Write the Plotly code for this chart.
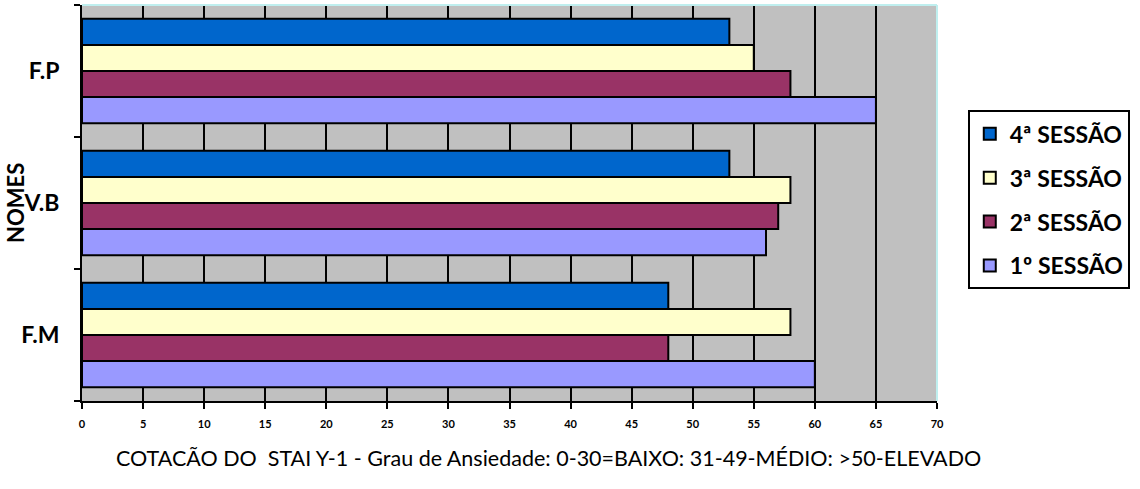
import plotly.graph_objects as go

categories = ["F.M", "V.B", "F.P"]
series_names = ["1º SESSÃO", "2ª SESSÃO", "3ª SESSÃO", "4ª SESSÃO"]
s1 = [60, 56, 65]
s2 = [48, 57, 58]
s3 = [58, 58, 55]
s4 = [48, 53, 53]
colors = ["#9999FF", "#993366", "#FFFFCC", "#0066CC"]
x_ticks = list(range(0, 75, 5))
x_title = "COTACÃO DO  STAI Y-1 - Grau de Ansiedade: 0-30=BAIXO: 31-49-MÉDIO: >50-ELEVADO"
y_title = "NOMES"

FONT = "Lato"

fig = go.Figure()
for i, (name, vals, col) in enumerate(zip(series_names, [s1, s2, s3, s4], colors)):
    fig.add_trace(go.Bar(
        y=categories, x=vals, name=name, orientation="h",
        legendgroup=name, legendrank=1000 - i,
        marker=dict(color=col, line=dict(color="black", width=2)),
    ))

fig.update_layout(
    width=1140, height=489,
    margin=dict(l=82, r=203, t=5, b=88),
    paper_bgcolor="white",
    plot_bgcolor="#C0C0C0",
    barmode="group", bargap=0.21, bargroupgap=0,
    font=dict(family=FONT, color="black"),
    legend=dict(
        traceorder="grouped",
        x=1.036, y=0.508, xanchor="left", yanchor="middle",
        bordercolor="black", borderwidth=2,
        font=dict(size=23, family=FONT, weight="bold"),
        itemwidth=30, tracegroupgap=11,
    ),
    showlegend=True,
)

fig.update_xaxes(
    range=[0, 70], tickvals=x_ticks, ticktext=[str(v) for v in x_ticks],
    showgrid=True, gridcolor="black", gridwidth=2,
    showline=True, linecolor="black", linewidth=2,
    ticks="outside", ticklen=6, tickwidth=2, tickcolor="black",
    tickfont=dict(size=11, family=FONT, weight="bold"),
    ticklabelstandoff=6,
    zeroline=False, automargin=False,
)
fig.update_yaxes(
    categoryorder="array", categoryarray=categories,
    tickson="boundaries",
    showline=True, linecolor="black", linewidth=2,
    ticks="outside", ticklen=6, tickwidth=2, tickcolor="black",
    tickfont=dict(size=23, family=FONT, weight="bold"),
    ticklabelstandoff=16,
    showgrid=False, automargin=False,
)

fig.add_annotation(text=x_title, xref="paper", yref="paper", x=0.5, y=0,
                   xshift=39, yshift=-72, showarrow=False,
                   font=dict(size=21.5, family=FONT))
fig.add_annotation(text=y_title, xref="paper", yref="paper", x=0, y=0.5,
                   xanchor="center", yanchor="middle",
                   xshift=-67, yshift=0, textangle=-90, showarrow=False,
                   font=dict(size=22, family=FONT, weight="bold"))

# light cyan plot-area border on top and right
fig.add_shape(type="line", xref="paper", yref="paper", x0=0, x1=1, y0=1, y1=1,
              line=dict(color="#BFEFEF", width=2))
fig.add_shape(type="line", xref="paper", yref="paper", x0=1, x1=1, y0=0, y1=1,
              line=dict(color="#BFEFEF", width=2))

fig.write_html("out.html", config={"displayModeBar": False},
               post_script="document.body.style.margin='0px';")
